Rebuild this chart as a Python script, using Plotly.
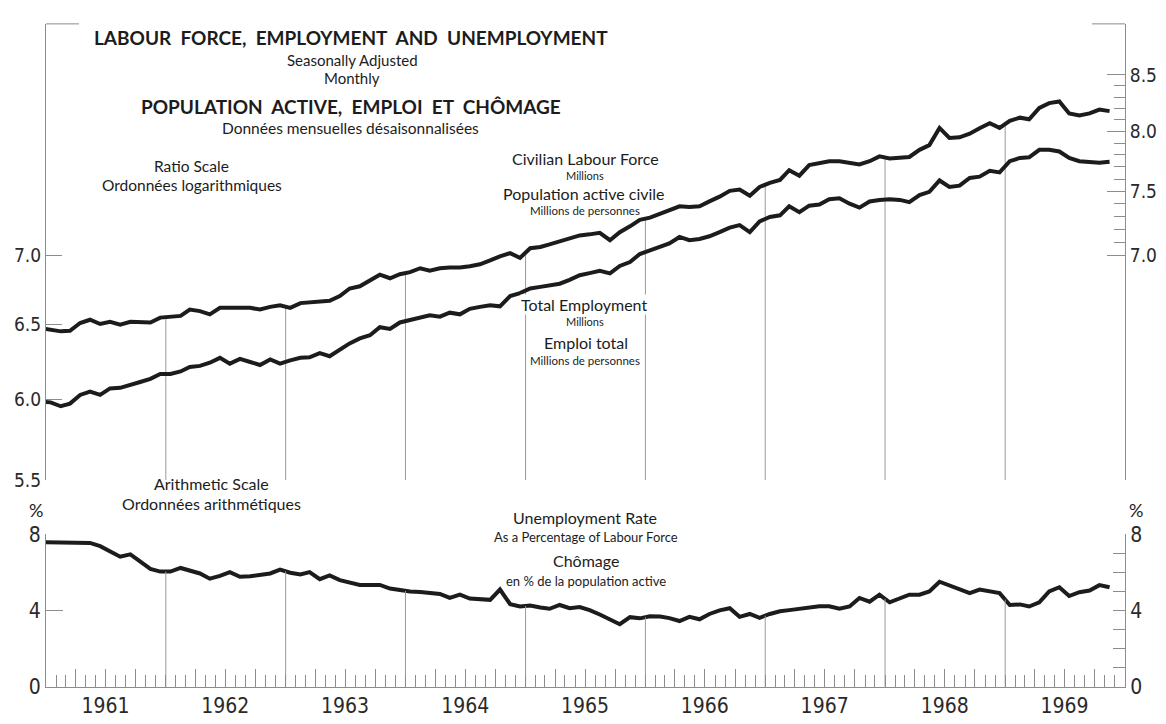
import numpy as np
import pandas as pd
import plotly.graph_objects as go

W, H = 1166, 724
OFF = 8  # the page body margin shifts the figure by this much

# monthly, seasonally adjusted, Dec 1960 .. Nov 1969 (plotted mid-month)
months = pd.date_range("1960-12-01", "1969-11-01", freq="MS") + pd.Timedelta(days=14)

labour_force = [
    6.475, 6.466, 6.453, 6.457, 6.511, 6.534, 6.504, 6.520, 6.500, 6.520, 6.520, 6.515,
    6.549, 6.552, 6.561, 6.606, 6.595, 6.572, 6.618, 6.618, 6.618, 6.618, 6.606, 6.625,
    6.636, 6.618, 6.652, 6.657, 6.664, 6.669, 6.703, 6.757, 6.773, 6.816, 6.858, 6.832,
    6.862, 6.877, 6.906, 6.887, 6.906, 6.911, 6.911, 6.920, 6.935, 6.964, 6.995, 7.019,
    6.983, 7.056, 7.066, 7.085, 7.110, 7.130, 7.154, 7.162, 7.174, 7.117, 7.179, 7.224,
    7.274, 7.292, 7.325, 7.356, 7.381, 7.376, 7.381, 7.420, 7.458, 7.505, 7.515, 7.466,
    7.536, 7.570, 7.594, 7.673, 7.628, 7.716, 7.735, 7.748, 7.748, 7.735, 7.721, 7.748,
    7.788, 7.770, 7.780, 7.783, 7.843, 7.883, 8.030, 7.944, 7.949, 7.980, 8.027, 8.071,
    8.030, 8.091, 8.119, 8.105, 8.204, 8.247, 8.261, 8.156, 8.139, 8.156, 8.190, 8.176,
]

employment = [
    5.985, 5.979, 5.954, 5.971, 6.027, 6.048, 6.027, 6.069, 6.073, 6.090, 6.111, 6.132,
    6.164, 6.164, 6.181, 6.211, 6.218, 6.239, 6.272, 6.233, 6.265, 6.244, 6.224, 6.261,
    6.233, 6.255, 6.272, 6.276, 6.304, 6.283, 6.326, 6.370, 6.404, 6.426, 6.482, 6.470,
    6.515, 6.531, 6.547, 6.565, 6.556, 6.584, 6.572, 6.611, 6.625, 6.636, 6.629, 6.703,
    6.724, 6.757, 6.769, 6.780, 6.792, 6.820, 6.854, 6.870, 6.887, 6.868, 6.923, 6.952,
    7.012, 7.039, 7.068, 7.093, 7.142, 7.117, 7.127, 7.147, 7.179, 7.214, 7.234, 7.179,
    7.262, 7.297, 7.310, 7.381, 7.335, 7.386, 7.396, 7.438, 7.445, 7.402, 7.371, 7.420,
    7.432, 7.438, 7.432, 7.414, 7.471, 7.497, 7.589, 7.536, 7.547, 7.610, 7.620, 7.668,
    7.655, 7.748, 7.775, 7.780, 7.843, 7.843, 7.829, 7.775, 7.748, 7.743, 7.735, 7.743,
]

unemployment = [
    7.58, 7.58, 7.58, 7.58, 7.58, 7.54, 7.37, 7.12, 6.82, 6.94, 6.57, 6.18,
    6.04, 6.04, 6.23, 6.08, 5.94, 5.67, 5.81, 6.01, 5.77, 5.79, 5.84, 5.94,
    6.14, 5.98, 5.89, 6.01, 5.64, 5.84, 5.59, 5.47, 5.34, 5.34, 5.34, 5.15,
    5.07, 5.00, 4.97, 4.93, 4.87, 4.66, 4.83, 4.63, 4.61, 4.56, 5.10, 4.33,
    4.21, 4.26, 4.16, 4.09, 4.29, 4.12, 4.18, 4.02, 3.79, 3.52, 3.28, 3.65,
    3.59, 3.70, 3.69, 3.60, 3.45, 3.67, 3.54, 3.82, 4.01, 4.12, 3.67, 3.82,
    3.62, 3.82, 3.96, 4.02, 4.08, 4.15, 4.22, 4.22, 4.09, 4.21, 4.66, 4.46,
    4.83, 4.43, 4.63, 4.83, 4.83, 5.00, 5.51, 5.30, 5.10, 4.91, 5.10, 5.00,
    4.91, 4.29, 4.32, 4.21, 4.43, 5.00, 5.22, 4.76, 4.96, 5.05, 5.33, 5.22,
]

years = list(range(1961, 1970))
drop_years = years[1:]

ratio_left_ticks = [5.5, 6.0, 6.5, 7.0]
ratio_left_text = ["5.5", "6.0", "6.5", "7.0"]
ratio_right_ticks = [5.5, 7.0, 7.5, 8.0, 8.5]
ratio_right_text = ["", "7.0", "7.5", "8.0", "8.5"]
ratio_right_minor = [7.1, 7.2, 7.3, 7.4, 7.6, 7.7, 7.8, 7.9, 8.1, 8.2, 8.3, 8.4]
ratio_range = [5.5, 8.98]

pct_ticks = [0, 4, 8]
pct_minor = [1, 2, 3, 5, 6, 7]
pct_range = [0, 8]

INK = "#1c1c1c"
AXIS = "#8c8c8c"
GRID = "#9a9a9a"
NUM_FONT = "'Liberation Sans Narrow', 'DejaVu Sans Condensed', Roboto, sans-serif"
TXT_FONT = "Lato, 'Open Sans', sans-serif"

FW, FH = W - OFF, H - OFF


def px_x(x):
    return (x - OFF) / FW


def px_y(y):
    return 1 - (y - OFF) / FH


def drop_lines(series, bottom, log=False):
    t = months.values.astype("int64")
    vals = np.log(series) if log else np.asarray(series, dtype=float)
    xs, ys = [], []
    for yr in drop_years:
        d = pd.Timestamp(f"{yr}-01-01")
        v = np.interp(d.value, t, vals)
        xs += [d, d, None]
        ys += [bottom, float(np.exp(v)) if log else float(v), None]
    return xs, ys


fig = go.Figure()

# vertical year-boundary lines under the curves
dx, dy = drop_lines(labour_force, ratio_range[0], log=True)
fig.add_trace(go.Scatter(x=dx, y=dy, mode="lines", line={"color": GRID, "width": 1},
                         xaxis="x", yaxis="y", hoverinfo="skip"))
dx, dy = drop_lines(unemployment, pct_range[0])
fig.add_trace(go.Scatter(x=dx, y=dy, mode="lines", line={"color": GRID, "width": 1},
                         xaxis="x2", yaxis="y4", hoverinfo="skip"))

line_style = {"color": INK, "width": 4}
fig.add_trace(go.Scatter(x=months, y=labour_force, mode="lines", line=line_style,
                         name="Civilian Labour Force", xaxis="x", yaxis="y2"))
fig.add_trace(go.Scatter(x=months, y=employment, mode="lines", line=line_style,
                         name="Total Employment", xaxis="x", yaxis="y"))
fig.add_trace(go.Scatter(x=months, y=unemployment, mode="lines", line=line_style,
                         name="Unemployment Rate", xaxis="x2", yaxis="y3"))

x_dom = [px_x(46), px_x(1125)]
top_dom = [px_y(484), px_y(12)]
bot_dom = [px_y(698), px_y(540)]
x_range = ["1961-01-01", "1970-01-01"]

quarter_ticks, quarter_text = [], []
for yr in years:
    for m in (4, 7, 10):
        quarter_ticks.append(f"{yr}-{m:02d}-01")
        quarter_text.append(str(yr) if m == 7 else "")

num_font = {"family": NUM_FONT, "size": 19, "color": "#2a2a2a"}
year_font = {"family": NUM_FONT, "size": 21, "color": "#2a2a2a"}
log_rng = [np.log10(ratio_range[0]), np.log10(ratio_range[1])]

fig.update_layout(
    width=FW,
    height=FH,
    margin={"l": 0, "r": 0, "t": 0, "b": 0},
    paper_bgcolor="white",
    plot_bgcolor="white",
    showlegend=False,
    xaxis={
        "domain": x_dom, "anchor": "y", "range": x_range, "type": "date",
        "showticklabels": False, "ticks": "", "showgrid": False, "zeroline": False,
        "showline": False,
    },
    yaxis={
        "domain": top_dom, "anchor": "x", "type": "log", "range": log_rng,
        "tickmode": "array", "tickvals": ratio_left_ticks, "ticktext": ratio_left_text,
        "ticks": "inside", "ticklen": 16, "tickcolor": AXIS, "tickwidth": 1,
        "showline": True, "linecolor": AXIS, "linewidth": 1,
        "showgrid": False, "zeroline": False, "tickfont": num_font,
    },
    yaxis2={
        "overlaying": "y", "anchor": "x", "side": "right", "type": "log", "range": log_rng,
        "tickmode": "array", "tickvals": ratio_right_ticks, "ticktext": ratio_right_text,
        "ticks": "inside", "ticklen": 18, "tickcolor": AXIS, "tickwidth": 1,
        "minor": {"tickmode": "array", "tickvals": ratio_right_minor, "ticks": "inside",
                  "ticklen": 11, "tickcolor": AXIS, "showgrid": False},
        "showline": True, "linecolor": AXIS, "linewidth": 1,
        "showgrid": False, "zeroline": False, "tickfont": num_font,
    },
    xaxis2={
        "domain": x_dom, "anchor": "y3", "range": x_range, "type": "date",
        "tickmode": "array", "tickvals": quarter_ticks, "ticktext": quarter_text,
        "ticks": "inside", "ticklen": 18, "tickcolor": AXIS, "tickwidth": 1,
        "minor": {"ticks": "inside", "ticklen": 12, "dtick": "M1", "tick0": "1961-01-01",
                  "tickcolor": AXIS, "showgrid": False},
        "showline": True, "linecolor": AXIS, "linewidth": 1,
        "showgrid": False, "zeroline": False, "tickfont": year_font,
    },
    yaxis3={
        "domain": bot_dom, "anchor": "x2", "range": pct_range,
        "tickmode": "array", "tickvals": pct_ticks,
        "ticks": "inside", "ticklen": 17, "tickcolor": AXIS, "tickwidth": 1,
        "showline": True, "linecolor": AXIS, "linewidth": 1,
        "showgrid": False, "zeroline": False, "tickfont": year_font,
    },
    yaxis4={
        "overlaying": "y3", "anchor": "x2", "side": "right", "range": pct_range,
        "tickmode": "array", "tickvals": pct_ticks,
        "ticks": "inside", "ticklen": 12, "tickcolor": AXIS, "tickwidth": 1,
        "minor": {"tickmode": "array", "tickvals": pct_minor, "ticks": "inside",
                  "ticklen": 12, "tickcolor": AXIS, "showgrid": False},
        "showline": True, "linecolor": AXIS, "linewidth": 1,
        "showgrid": False, "zeroline": False, "tickfont": year_font,
    },
)

# short caps at the top of the ratio-scale frame
cap = 33 / 1079
for x0, x1 in ((0, cap), (1 - cap, 1)):
    fig.add_shape(type="line", xref="x domain", yref="y domain", x0=x0, x1=x1, y0=1, y1=1,
                  line={"color": AXIS, "width": 1})

# (text, centre x px, centre y px, size, bold, white box)
labels = [
    ("LABOUR  FORCE,  EMPLOYMENT  AND  UNEMPLOYMENT", 351, 26, 19, True, False),
    ("Seasonally Adjusted", 352, 49, 15, False, False),
    ("Monthly", 352, 68, 15, False, False),
    ("POPULATION  ACTIVE,  EMPLOI  ET  CHÔMAGE", 351, 97, 19, True, False),
    ("Données mensuelles désaisonnalisées", 350, 119.5, 15.5, False, False),
    ("Ratio Scale", 191, 159, 15.5, False, False),
    ("Ordonnées logarithmiques", 192, 178.5, 15.5, False, False),
    ("Civilian Labour Force", 585, 151.5, 16, False, True),
    ("Millions", 585, 169, 11, False, True),
    ("Population active civile", 584, 188, 16, False, True),
    ("Millions de personnes", 585, 205.5, 11.5, False, True),
    ("Total Employment", 584, 302, 16, False, True),
    ("Millions", 585, 320, 11, False, True),
    ("Emploi total", 586, 342, 16, False, True),
    ("Millions de personnes", 585, 360.5, 11.5, False, True),
    ("Arithmetic Scale", 212, 488, 16, False, False),
    ("Ordonnées arithmétiques", 212, 508.5, 16, False, False),
    ("%", 36, 515, 18, False, False),
    ("%", 1136, 515, 18, False, False),
    ("Unemployment Rate", 585, 523, 16, False, True),
    ("As a Percentage of Labour Force", 586, 543, 13, False, True),
    ("Chômage", 586, 567, 16, False, True),
    ("en % de la population active", 586, 588, 13, False, True),
]
for text, x, y, size, bold, boxed in labels:
    fig.add_annotation(
        text=f"<b>{text}</b>" if bold else text,
        x=px_x(x), y=px_y(y), xref="paper", yref="paper",
        xanchor="center", yanchor="middle", showarrow=False,
        font={"family": TXT_FONT, "size": size, "color": INK},
        bgcolor="white" if boxed else "rgba(0,0,0,0)", borderpad=0,
    )

fig.write_html("out.html")
